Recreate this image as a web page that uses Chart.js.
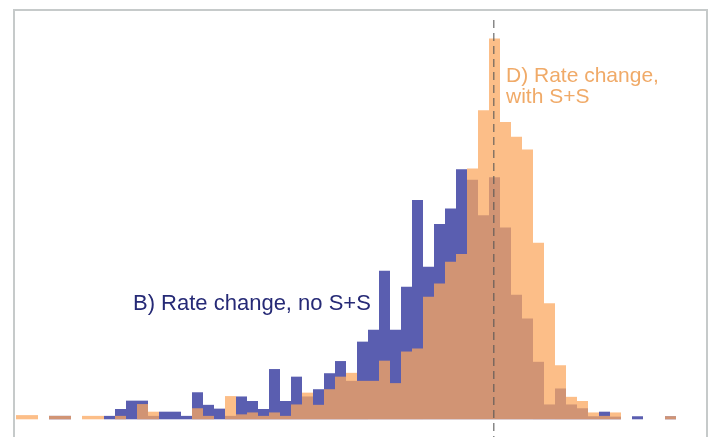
<!DOCTYPE html>
<html>
<head>
<meta charset="utf-8">
<script src="https://cdn.jsdelivr.net/npm/chart.js@4.4.1/dist/chart.umd.min.js"></script>
<style>
html,body{margin:0;padding:0;background:#ffffff;overflow:hidden}
canvas{display:block}
</style>
</head>
<body>
<canvas id="c" width="709" height="437"></canvas>
<script>
// Bin centres: change in rate, in bin units (0 = no change, dashed line)
const binCenters = [
  -43,-42,-41,-40,-39,-38,-37,-36,-35,-34,
  -33,-32,-31,-30,-29,-28,-27,-26,-25,-24,
  -23,-22,-21,-20,-19,-18,-17,-16,-15,-14,
  -13,-12,-11,-10,-9,-8,-7,-6,-5,-4,
  -3,-2,-1,0,1,2,3,4,5,6,
  7,8,9,10,11,12,13,14,15,16
];
// D) Rate change, with S+S (relative frequency, peak = 100)
const rateWithSS = [
  1.1,1.1,0,0.9,0.9,0,0.9,0.9,0,0.9,
  0,4.0,2.0,0,0,0,2.9,0.9,0,6.1,
  1.3,1.8,0.9,1.8,0.9,3.9,7.0,3.8,7.9,11.2,
  12.2,10.1,10.1,15.4,9.5,17.8,18.6,32.2,35.7,41.4,
  43.4,65.9,81.2,100,78.1,74.2,70.9,46.4,30.5,14.2,
  5.9,4.8,1.8,0.9,1.8,0,0,0,0,0.8
];
// B) Rate change, no S+S
const rateNoSS = [
  0,0,0,0.9,0.9,0,0,0,0.9,2.7,
  4.9,4.9,0.9,2.0,2.0,0.9,7.1,3.8,2.8,0.9,
  6.0,4.8,2.7,13.2,4.8,11.2,6.0,7.9,12.1,15.3,
  10.1,20.4,23.5,39.0,23.5,34.8,57.6,40.1,51.3,55.4,
  65.7,62.9,53.6,63.6,50.4,32.7,26.5,15.1,3.9,8.1,
  3.9,2.9,0.8,2.0,0.7,0,0.8,0,0,0.8
];
const labelNoSS = 'B) Rate change, no S+S';
const labelWithSS = ['D) Rate change,', 'with S+S'];

const decor = {
  id: 'decor',
  afterDatasetsDraw(chart) {
    const {ctx, chartArea: a, scales: {x}} = chart;
    const px = Math.round(x.getPixelForValue(0)) - 0.25;
    ctx.save();
    ctx.strokeStyle = 'rgba(85,85,85,0.7)';
    ctx.lineWidth = 1.5;
    ctx.setLineDash([8, 5]);
    ctx.beginPath();
    ctx.moveTo(px, a.top + 9);
    ctx.lineTo(px, chart.height);
    ctx.stroke();
    ctx.restore();

    ctx.save();
    ctx.textBaseline = 'alphabetic';
    ctx.textAlign = 'left';
    ctx.font = '22px "Liberation Sans", Arial, sans-serif';
    ctx.fillStyle = 'rgb(38,42,118)';
    ctx.fillText(labelNoSS, 133, 309.5);
    ctx.font = '21px "Liberation Sans", Arial, sans-serif';
    ctx.fillStyle = 'rgb(240,170,104)';
    ctx.fillText(labelWithSS[0], 506, 81.7);
    ctx.fillText(labelWithSS[1], 506, 103.3);
    ctx.restore();
  },
  afterDraw(chart) {
    const {ctx, chartArea: a} = chart;
    ctx.save();
    ctx.strokeStyle = 'rgb(198,202,202)';
    ctx.lineWidth = 2;
    ctx.beginPath();
    ctx.moveTo(a.left - 1, chart.height);
    ctx.lineTo(a.left - 1, a.top - 1);
    ctx.lineTo(a.right + 1, a.top - 1);
    ctx.lineTo(a.right + 1, chart.height);
    ctx.stroke();
    ctx.restore();
  }
};

new Chart(document.getElementById('c').getContext('2d'), {
  type: 'bar',
  data: {
    datasets: [
      {
        label: labelWithSS.join(' '),
        data: binCenters.map((b, i) => ({x: b, y: rateWithSS[i]})),
        backgroundColor: 'rgba(251,167,94,0.74)',
        order: 0
      },
      {
        label: labelNoSS,
        data: binCenters.map((b, i) => ({x: b, y: rateNoSS[i]})),
        backgroundColor: 'rgb(90,94,176)',
        order: 1
      }
    ]
  },
  options: {
    responsive: false,
    animation: false,
    devicePixelRatio: 1,
    layout: {padding: {left: 15, right: 3, top: 11, bottom: 0}},
    plugins: {legend: {display: false}, tooltip: {enabled: false}},
    datasets: {bar: {grouped: false, barPercentage: 1, categoryPercentage: 1, borderWidth: 0, inflateAmount: 0}},
    scales: {
      x: {type: 'linear', display: false, min: -43.590909, max: 19.227273, offset: false,
          ticks: {includeBounds: false, stepSize: 10}},
      y: {display: false, min: -4.65, max: 107.25}
    }
  },
  plugins: [decor]
});
</script>
</body>
</html>
